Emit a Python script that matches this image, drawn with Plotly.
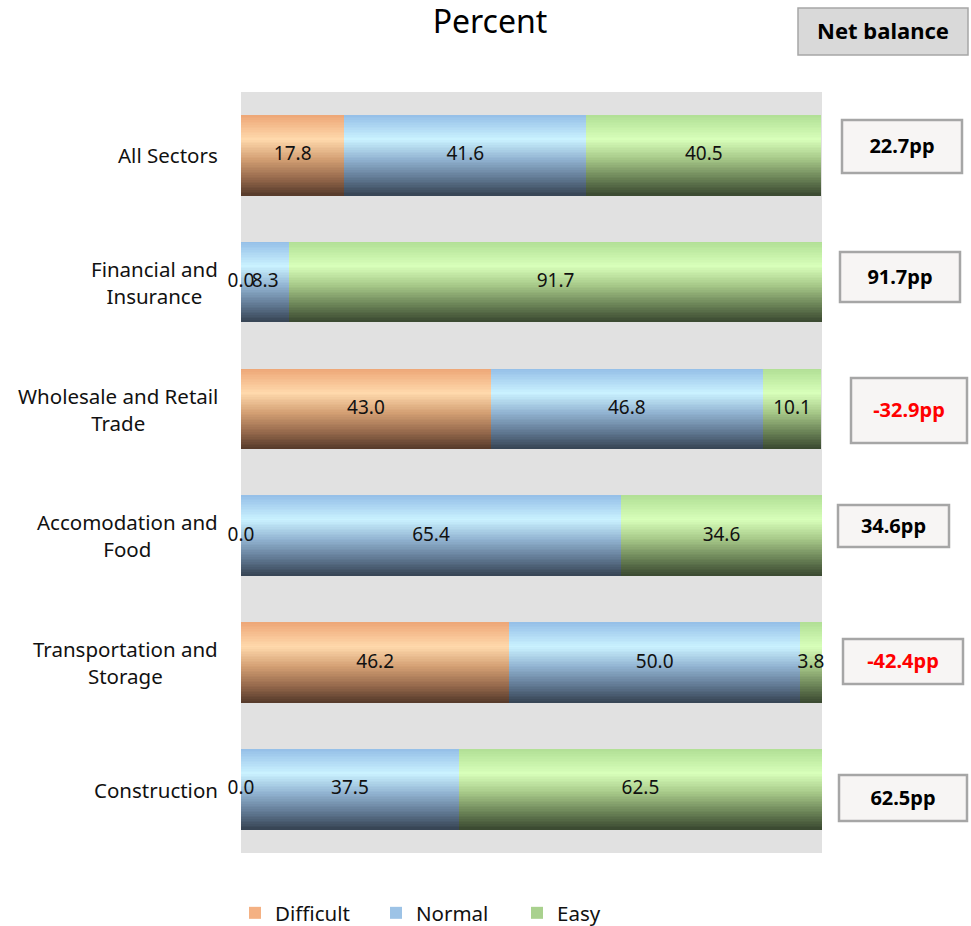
import plotly.graph_objects as go

# ---------------- data ----------------
categories = [
    "All Sectors",
    "Financial and<br>Insurance",
    "Wholesale and Retail<br>Trade",
    "Accomodation and<br>Food",
    "Transportation and<br>Storage",
    "Construction",
]
difficult = [17.8, 0.0, 43.0, 0.0, 46.2, 0.0]
normal = [41.6, 8.3, 46.8, 65.4, 50.0, 37.5]
easy = [40.5, 91.7, 10.1, 34.6, 3.8, 62.5]
net_balance = [22.7, 91.7, -32.9, 34.6, -42.4, 62.5]
series_names = ["Difficult", "Normal", "Easy"]

# ---------------- styling ----------------
FONT = "Noto Sans"
legend_colors = ["#f4b183", "#9dc3e6", "#a9d18e"]
gradients = [
    [(0.0, (238, 168, 120)), (0.3, (255, 217, 172)), (0.55, (212, 160, 116)), (0.8, (150, 105, 76)), (1.0, (88, 60, 44))],
    [(0.0, (150, 192, 232)), (0.3, (202, 242, 255)), (0.55, (146, 180, 210)), (0.8, (96, 120, 146)), (1.0, (56, 70, 86))],
    [(0.0, (178, 224, 150)), (0.3, (216, 255, 186)), (0.55, (166, 200, 136)), (0.8, (106, 130, 86)), (1.0, (60, 75, 50))],
]


def grad_color(stops, t):
    for (t0, c0), (t1, c1) in zip(stops[:-1], stops[1:]):
        if t0 <= t <= t1:
            f = (t - t0) / (t1 - t0) if t1 > t0 else 0
            r, g, b = (round(a + (b_ - a) * f) for a, b_ in zip(c0, c1))
            return f"rgb({r},{g},{b})"
    r, g, b = stops[-1][1]
    return f"rgb({r},{g},{b})"


# plot area in pixels
L, R, T, B = 241, 822, 92, 853
W_FIG, H_FIG = 971, 926


def px(x):
    return (x - L) / (R - L)


def py(y):
    return (B - y) / (B - T)


fig = go.Figure()

values = [difficult, normal, easy]
bases = []
run = [0.0] * len(categories)
for vals in values:
    bases.append(list(run))
    run = [a + b for a, b in zip(run, vals)]

bw = 0.63
N = 48
step = bw / N

for s, (vals, base) in enumerate(zip(values, bases)):
    # solid legend/under trace
    fig.add_trace(go.Bar(
        orientation="h", y=categories, x=vals, base=base,
        width=bw, offset=-bw / 2,
        marker=dict(color=legend_colors[s], line=dict(width=0)),
        name=series_names[s], showlegend=True, hoverinfo="skip",
    ))
    for i in range(N):
        t = i / (N - 1)
        fig.add_trace(go.Bar(
            orientation="h", y=categories, x=vals, base=base,
            width=step * 1.15, offset=-bw / 2 + i * step,
            marker=dict(color=grad_color(gradients[s], t), line=dict(width=0)),
            showlegend=False, hoverinfo="skip",
        ))

# value labels
for vals, base in zip(values, bases):
    fig.add_trace(go.Scatter(
        x=[b + v / 2 for b, v in zip(base, vals)], y=categories,
        mode="text", text=[f"{v:.1f}" for v in vals],
        textfont=dict(family=FONT, size=19, color="#111111"),
        textposition="middle center",
        showlegend=False, hoverinfo="skip", cliponaxis=False,
    ))

# category labels (centre-aligned lines, right-anchored)
annotations = []
for c in categories:
    annotations.append(dict(
        text=c, xref="paper", x=px(220), xanchor="right", yref="y", y=c,
        yanchor="middle", align="center", showarrow=False,
        font=dict(family=FONT, size=20.5, color="#111111"),
    ))

shapes = []
# Net balance header
shapes.append(dict(
    type="rect", xref="paper", yref="paper",
    x0=px(798), x1=px(968), y0=py(55), y1=py(8),
    fillcolor="#d9d9d9", line=dict(color="#a6a6a6", width=1.5),
    label=dict(text="<b>Net balance</b>", font=dict(family=FONT, size=22, color="#000000"),
               textposition="middle center"),
))
# net balance boxes (pixel boxes)
boxes = [(842, 962, 120, 173), (840, 960, 252, 302), (851, 967, 378, 443),
         (838, 949, 505, 547), (843, 963, 639, 684), (839, 967, 775, 821)]
for (x0, x1, y0, y1), nb in zip(boxes, net_balance):
    col = "#ff0000" if nb < 0 else "#000000"
    shapes.append(dict(
        type="rect", xref="paper", yref="paper",
        x0=px(x0), x1=px(x1), y0=py(y1), y1=py(y0),
        fillcolor="#f7f5f4", line=dict(color="#a6a6a6", width=2.5),
        label=dict(text=f"<b>{nb:.1f}pp</b>", font=dict(family=FONT, size=20, color=col),
                   textposition="middle center"),
    ))

fig.update_layout(
    width=W_FIG, height=H_FIG,
    margin=dict(l=L, r=W_FIG - R, t=T, b=H_FIG - B, pad=0),
    paper_bgcolor="white", plot_bgcolor="#e1e1e1",
    barmode="overlay", bargap=0,
    font=dict(family=FONT, size=18, color="#1a1a1a"),
    title=dict(text="Percent", x=490 / W_FIG, xanchor="center", xref="container",
               y=1 - 22 / H_FIG, yanchor="middle", yref="container",
               font=dict(family=FONT, size=32, color="#000000")),
    xaxis=dict(range=[0, 100], showgrid=False, zeroline=False, showticklabels=False,
               ticks="", fixedrange=True),
    yaxis=dict(autorange="reversed", showgrid=False, zeroline=False, ticks="",
               showticklabels=False, fixedrange=True),
    legend=dict(orientation="h", x=px(235), xanchor="left",
                y=1 - 913 / H_FIG, yanchor="middle", yref="container",
                font=dict(family=FONT, size=20.5, color="#111111"),
                entrywidth=96, entrywidthmode="pixels", traceorder="normal",
                itemclick=False, itemdoubleclick=False),
    shapes=shapes,
    annotations=annotations,
    showlegend=True,
)

fig.write_html("out.html", config={"displayModeBar": False},
               post_script="document.body.style.margin='0';")
